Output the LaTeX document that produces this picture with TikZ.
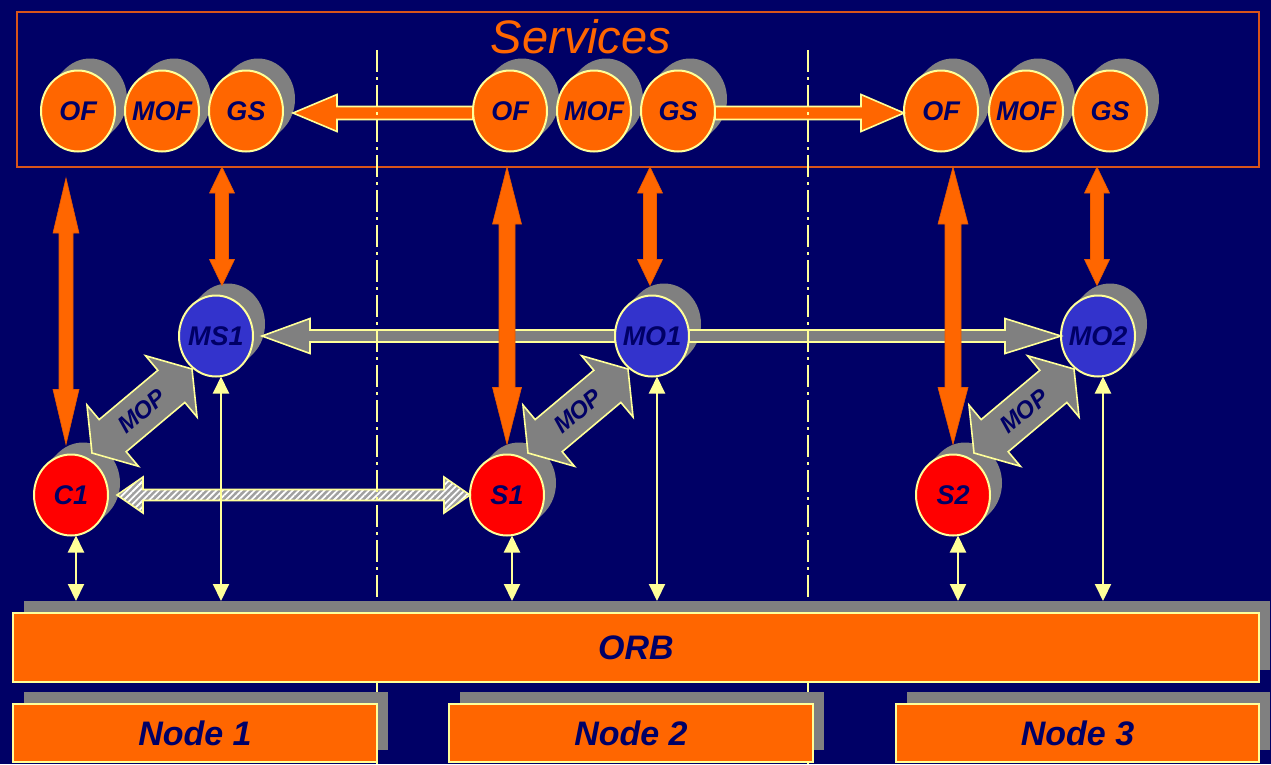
\documentclass[tikz,border=0pt]{standalone}
\usepackage{fontspec}
\setmainfont{Liberation Sans}
\usetikzlibrary{calc,shapes.geometric,shadows,patterns.meta,arrows.meta}

\definecolor{navy}{HTML}{000066}
\definecolor{ppOrange}{HTML}{FF6600}
\definecolor{ppYellow}{HTML}{FFFF99}
\definecolor{ppGray}{HTML}{808080}
\definecolor{ppBlue}{HTML}{3333CC}
\definecolor{ppRed}{HTML}{FF0000}
\definecolor{ppRim}{HTML}{D9541A}
\definecolor{ppEdge}{HTML}{E85A00}
\definecolor{ppHatch}{HTML}{A0A0A0}

% block arrow with one head: style, tail, tip, shaft half width, head half width, head length
\newcommand\singlearrow[6]{%
  \coordinate (sa-b) at ($(#3)!#6!(#2)$);
  \draw[#1] ($(#2)!#4!90:(#3)$) -- ($(sa-b)!#4!90:(#3)$) -- ($(sa-b)!#5!90:(#3)$) -- (#3)
    -- ($(sa-b)!#5!-90:(#3)$) -- ($(sa-b)!#4!-90:(#3)$) -- ($(#2)!#4!-90:(#3)$) -- cycle;
}
% block arrow with two heads: style, end A, end B, shaft half width, head half width, head length
\newcommand\doublearrow[6]{%
  \coordinate (da-a) at ($(#2)!#6!(#3)$);
  \coordinate (da-b) at ($(#3)!#6!(#2)$);
  \draw[#1] (#2) -- ($(da-a)!#5!90:(#3)$) -- ($(da-a)!#4!90:(#3)$) -- ($(da-b)!#4!90:(#3)$)
    -- ($(da-b)!#5!90:(#3)$) -- (#3) -- ($(da-b)!#5!-90:(#3)$) -- ($(da-b)!#4!-90:(#3)$)
    -- ($(da-a)!#4!-90:(#3)$) -- ($(da-a)!#5!-90:(#3)$) -- cycle;
}

\begin{document}
\begin{tikzpicture}[x=1pt,y=-1pt,
  ball/.style={ellipse, minimum width=74pt, minimum height=81pt, inner sep=0pt, outer sep=0pt,
    draw=ppYellow, line width=2pt,
    general shadow={fill=ppGray, shadow xshift=4pt, shadow yshift=4pt},
    general shadow={fill=ppGray, shadow xshift=8pt, shadow yshift=8pt},
    general shadow={fill=ppGray, shadow xshift=12pt, shadow yshift=12pt}},
  svcball/.style={ball, fill=ppOrange},
  mgrball/.style={ball, fill=ppBlue},
  objball/.style={ball, fill=ppRed},
  balltext/.style={font=\fontsize{27}{27}\selectfont\bfseries\itshape, text=navy, inner sep=0pt},
  moptext/.style={font=\fontsize{24}{24}\selectfont\bfseries\itshape, text=navy, inner sep=0pt},
  boxtext/.style={font=\fontsize{34}{34}\selectfont\bfseries\itshape, text=navy},
  bar/.style={rectangle, fill=ppOrange, draw=ppYellow, line width=1.5pt, inner sep=0pt, outer sep=0pt,
    general shadow={fill=ppGray, shadow xshift=11pt, shadow yshift=12pt}},
  oblock/.style={fill=ppOrange, draw=ppYellow, line width=1.6pt},
  vblock/.style={fill=ppOrange, draw=ppEdge, line width=0.6pt},
  gblock/.style={fill=ppGray, draw=ppYellow, line width=1.6pt},
  hblock/.style={preaction={fill=ppHatch},
    preaction={pattern={Lines[angle=45,distance=4.5pt,line width=1.8pt]}, pattern color=white},
    draw=ppYellow, line width=1.6pt},
  thinarrow/.style={draw=ppYellow, line width=2pt,
    {Triangle[width=16pt,length=17pt]}-{Triangle[width=16pt,length=17pt]}},
  sepline/.style={draw=ppYellow, line width=1.8pt, dash pattern=on 22pt off 5pt on 3pt off 5pt}]

% canvas
\fill[navy] (0,0) rectangle (1271,764);
\useasboundingbox (0,0) rectangle (1271,764);

% services frame
\node[draw=ppRim, line width=2.5pt, minimum width=1242pt, minimum height=155pt, inner sep=0pt, outer sep=0pt]
  (svc) at (638,89.5) {};
\node[font=\fontsize{47}{47}\selectfont\itshape, text=ppOrange] (svctitle) at (581,37) {Services};

% service objects
\node[svcball, label={[balltext]center:OF}]  (OF1)  at (78,111)   {};
\node[svcball, label={[balltext]center:MOF}] (MOF1) at (162,111)  {};
\node[svcball, label={[balltext]center:GS}]  (GS1)  at (246,111)  {};
\node[svcball, label={[balltext]center:OF}]  (OF2)  at (510,111)  {};
\node[svcball, label={[balltext]center:MOF}] (MOF2) at (594,111)  {};
\node[svcball, label={[balltext]center:GS}]  (GS2)  at (678,111)  {};
\node[svcball, label={[balltext]center:OF}]  (OF3)  at (941,111)  {};
\node[svcball, label={[balltext]center:MOF}] (MOF3) at (1026,111) {};
\node[svcball, label={[balltext]center:GS}]  (GS3)  at (1110,111) {};

% managers
\node[mgrball, label={[balltext]center:MS1}] (MS1) at (216,336)  {};
\node[mgrball, label={[balltext]center:MO1}] (MO1) at (652,336)  {};
\node[mgrball, label={[balltext]center:MO2}] (MO2) at (1098,336) {};

% application objects
\node[objball, label={[balltext]center:C1}] (C1) at (71,495)  {};
\node[objball, label={[balltext]center:S1}] (S1) at (507,495) {};
\node[objball, label={[balltext]center:S2}] (S2) at (953,495) {};

% manager to manager
\coordinate (g1t) at ([xshift=9pt]MS1.east);
\singlearrow{gblock}{MO1.west}{g1t}{6pt}{17.5pt}{48pt}
\singlearrow{gblock}{MO1.east}{MO2.west}{6pt}{17.5pt}{56pt}

% client to server
\coordinate (hc) at ([xshift=9pt]C1.east);
\doublearrow{hblock}{hc}{S1.west}{5.5pt}{18pt}{26pt}

% MOP links
\coordinate (m1a) at ([shift={(21,-42)}]C1.center);
\coordinate (m1b) at ([shift={(-24,33)}]MS1.center);
\doublearrow{gblock}{m1a}{m1b}{21pt}{40pt}{27pt}
\path (m1a) -- (m1b) node[midway, sloped, moptext] (mop1) {MOP};
\coordinate (m2a) at ([shift={(21,-42)}]S1.center);
\coordinate (m2b) at ([shift={(-24,33)}]MO1.center);
\doublearrow{gblock}{m2a}{m2b}{21pt}{40pt}{27pt}
\path (m2a) -- (m2b) node[midway, sloped, moptext] (mop2) {MOP};
\coordinate (m3a) at ([shift={(21,-42)}]S2.center);
\coordinate (m3b) at ([shift={(-24,33)}]MO2.center);
\doublearrow{gblock}{m3a}{m3b}{21pt}{40pt}{27pt}
\path (m3a) -- (m3b) node[midway, sloped, moptext] (mop3) {MOP};

% service to service
\coordinate (s1a) at ([yshift=-2pt]OF2.west);
\coordinate (s1b) at ([shift={(10,2)}]GS1.east);
\singlearrow{oblock}{s1a}{s1b}{6.5pt}{18.5pt}{44pt}
\coordinate (s2a) at ([yshift=-2pt]GS2.east);
\coordinate (s2b) at ([yshift=-2pt]OF3.west);
\singlearrow{oblock}{s2a}{s2b}{6.5pt}{18.5pt}{43pt}

% services to objects and managers
\coordinate (a1b) at ([shift={(-5,-10)}]C1.north);
\coordinate (a1s) at (a1b |- svc.south);
\coordinate (a1t) at ([yshift=-11pt]a1s);
\doublearrow{vblock}{a1t}{a1b}{7pt}{13pt}{55pt}
\coordinate (a2b) at ([shift={(6,-10)}]MS1.north);
\coordinate (a2t) at (a2b |- svc.south);
\doublearrow{vblock}{a2t}{a2b}{6.5pt}{12.5pt}{26pt}
\coordinate (a3b) at ([yshift=10pt]S1.north);
\coordinate (a3t) at (a3b |- svc.south);
\doublearrow{vblock}{a3t}{a3b}{8pt}{14.5pt}{57pt}
\coordinate (a4b) at ([shift={(-2,-10)}]MO1.north);
\coordinate (a4t) at (a4b |- svc.south);
\doublearrow{vblock}{a4t}{a4b}{6.5pt}{12.5pt}{26pt}
\coordinate (a5b) at ([yshift=10pt]S2.north);
\coordinate (a5t) at (a5b |- svc.south);
\doublearrow{vblock}{a5t}{a5b}{8pt}{15pt}{57pt}
\coordinate (a6b) at ([shift={(-1,-10)}]MO2.north);
\coordinate (a6t) at (a6b |- svc.south);
\doublearrow{vblock}{a6t}{a6b}{6.5pt}{12.5pt}{26pt}

% node boundaries
\draw[sepline] (377,50) -- (377,764);
\draw[sepline] (808,50) -- (808,764);

% bus and hosts
\node[bar, minimum width=1246pt, minimum height=69pt, boxtext] (ORB) at (636,647.5) {ORB};
\node[bar, minimum width=364pt, minimum height=58pt, boxtext] (N1) at (195,733) {Node 1};
\node[bar, minimum width=364pt, minimum height=58pt, boxtext] (N2) at (631,733) {Node 2};
\node[bar, minimum width=363pt, minimum height=58pt, boxtext] (N3) at (1077.5,733) {Node 3};

% links to the bus
\coordinate (busTop) at ([yshift=12pt]ORB.north);
\foreach \n in {C1,MS1,S1,MO1,S2,MO2} {
  \coordinate (\n-d) at ([xshift=5pt]\n.south);
  \draw[thinarrow] (\n-d) -- (\n-d |- busTop);
}
\end{tikzpicture}
\end{document}
